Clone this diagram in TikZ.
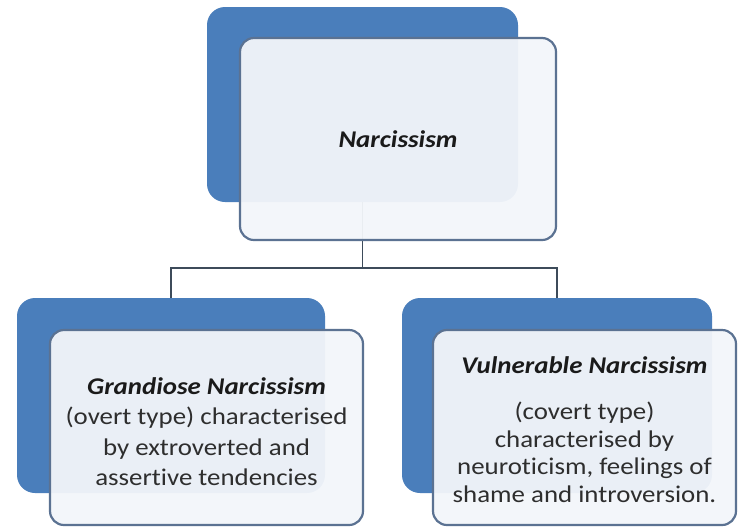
\documentclass[tikz,border=0pt]{standalone}
\usepackage{fontspec}
\setmainfont{Carlito}[FakeStretch=1.12, Ligatures=NoCommon]
\definecolor{backblue}{HTML}{4A7EBB}
\definecolor{frontfill}{HTML}{F3F6FA}
\definecolor{frontdraw}{HTML}{5B7292}
\definecolor{conncol}{HTML}{3D4B5A}
\definecolor{txt}{HTML}{2E2E2E}
\definecolor{ttl}{HTML}{1A1A1A}
\tikzset{
  backbox/.style={fill=backblue, rounded corners=18pt, inner sep=0pt},
  frontbox/.style={fill=frontfill, fill opacity=0.95, draw=frontdraw, draw opacity=1,
    line width=2.2pt, rounded corners=14pt, inner sep=0pt},
  boxtext/.style={align=center, text=txt, inner sep=0pt},
  conn/.style={draw=conncol, line width=1.8pt},
}
\newcommand{\ttlx}[1]{{\color{ttl}\bfseries\itshape #1}}
\begin{document}
\begin{tikzpicture}[x=1pt,y=-1pt]
\useasboundingbox (0,0) rectangle (738,531);
\fill[white] (0,0) rectangle (738,531);
% back boxes
\node[backbox, minimum width=311pt, minimum height=195pt] (tb) at (362.5,104.5) {};
\node[backbox, minimum width=308pt, minimum height=195pt] (lb) at (171,395.5) {};
\node[backbox, minimum width=310pt, minimum height=195pt] (rb) at (557,395.5) {};
% connectors
\coordinate (bus) at (362.5,268);
\draw[conn] (tb.south) -- (bus);
\draw[conn] (lb.north) -- (lb.north |- bus) -- (rb.north |- bus) -- (rb.north);
% front boxes
\node[frontbox, minimum width=316pt, minimum height=202pt] (tf) at (398,139) {};
\node[frontbox, minimum width=313pt, minimum height=195pt] (lf) at (206.5,427.5) {};
\node[frontbox, minimum width=303pt, minimum height=195pt] (rf) at (584.5,427.5) {};
% texts
\node[boxtext, font=\fontsize{24}{27}\selectfont] (tt) at (tf.center) {\ttlx{Narcissism}};
\node[boxtext, font=\fontsize{24}{30.5}\selectfont] (lt) at ([yshift=-4pt]lf.center)
  {\ttlx{Grandiose Narcissism}\\(overt type) characterised\\by extroverted and\\assertive tendencies};
\node[boxtext, font=\fontsize{24}{27.5}\selectfont] (rt) at ([yshift=-2pt]rf.center)
  {\ttlx{Vulnerable Narcissism}\\[19pt](covert type)\\characterised by\\neuroticism, feelings of\\shame and introversion.};
\end{tikzpicture}
\end{document}
